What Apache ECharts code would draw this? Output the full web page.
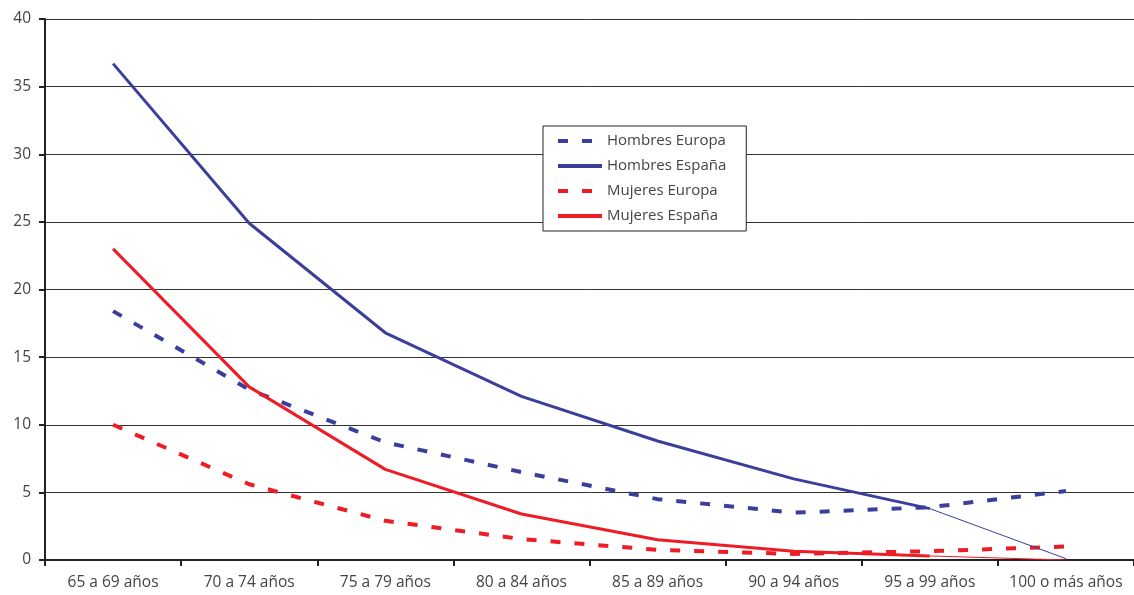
<!DOCTYPE html>
<html><head><meta charset="utf-8">
<script src="https://cdn.jsdelivr.net/npm/echarts@6/dist/echarts.min.js"></script>
<style>html,body{margin:0;padding:0;background:#fff}#c{width:1134px;height:595px}</style>
</head><body><div id="c"></div>
<script>
const categories = ['65 a 69 años','70 a 74 años','75 a 79 años','80 a 84 años','85 a 89 años','90 a 94 años','95 a 99 años','100 o más años'];
const hombresEuropa = [18.4, 12.6, 8.7, 6.5, 4.5, 3.5, 3.9, 5.1];
const hombresEspana = [36.7, 24.9, 16.8, 12.1, 8.8, 6.0, 3.8, null];
const hombresEspanaFin = [null, null, null, null, null, null, 3.8, 0.1];
const mujeresEuropa = [10.0, 5.6, 2.9, 1.55, 0.75, 0.45, 0.65, 1.0];
const mujeresEspana = [23.0, 12.8, 6.7, 3.4, 1.5, 0.65, 0.3, null];
const mujeresEspanaFin = [null, null, null, null, null, null, 0.3, 0.0];
const yTicks = {min: 0, max: 40, interval: 5};

const BLUE = '#3b3f9b', RED = '#ee1c24';
const font = 'Open Sans';
const chart = echarts.init(document.getElementById('c'));
chart.setOption({
  animation: false,
  textStyle: {fontFamily: font},
  grid: {left: 45, top: 19, width: 1093, height: 541},
  legend: {
    data: ['Hombres Europa','Hombres España','Mujeres Europa','Mujeres España'],
    orient: 'vertical', left: 543, top: 126,
    padding: [5, 20, 5, 13],
    backgroundColor: '#fff', borderColor: '#222', borderWidth: 1,
    itemWidth: 44, itemHeight: 14, itemGap: 5,
    textStyle: {fontFamily: font, fontSize: 15, color: '#444', lineHeight: 20},
    lineStyle: {width: 4},
    itemStyle: {opacity: 0}
  },
  xAxis: {
    type: 'category', data: categories, boundaryGap: true,
    axisLine: {lineStyle: {color: '#222', width: 2}},
    axisTick: {show: true, length: 6, lineStyle: {color: '#222', width: 2}},
    axisLabel: {fontFamily: font, fontSize: 15.5, color: '#444', margin: 15, interval: 0},
    splitLine: {show: false}
  },
  yAxis: {
    type: 'value', min: yTicks.min, max: yTicks.max, interval: yTicks.interval,
    axisLine: {show: true, lineStyle: {color: '#222', width: 2}},
    axisTick: {show: true, length: 6, lineStyle: {color: '#222', width: 2}},
    axisLabel: {fontFamily: font, fontSize: 15.5, color: '#444', margin: 14},
    splitLine: {show: true, lineStyle: {color: '#333', width: 1}}
  },
  series: [
    {name: 'Hombres Europa', type: 'line', data: hombresEuropa, showSymbol: false, symbol: 'none',
     lineStyle: {color: BLUE, width: 4, type: [10, 14]}, itemStyle: {color: BLUE}, z: 3},
    {name: 'Hombres España', type: 'line', data: hombresEspana, showSymbol: false, symbol: 'none',
     lineStyle: {color: BLUE, width: 3}, itemStyle: {color: BLUE}, z: 4},
    {name: 'HEfin', type: 'line', data: hombresEspanaFin, showSymbol: false, symbol: 'none',
     lineStyle: {color: BLUE, width: 1}, itemStyle: {color: BLUE}, z: 4},
    {name: 'Mujeres Europa', type: 'line', data: mujeresEuropa, showSymbol: false, symbol: 'none',
     lineStyle: {color: RED, width: 4, type: [10, 14]}, itemStyle: {color: RED}, z: 3},
    {name: 'Mujeres España', type: 'line', data: mujeresEspana, showSymbol: false, symbol: 'none',
     lineStyle: {color: RED, width: 3}, itemStyle: {color: RED}, z: 4},
    {name: 'MEfin', type: 'line', data: mujeresEspanaFin, showSymbol: false, symbol: 'none',
     lineStyle: {color: RED, width: 1}, itemStyle: {color: RED}, z: 4}
  ]
});
</script></body></html>
